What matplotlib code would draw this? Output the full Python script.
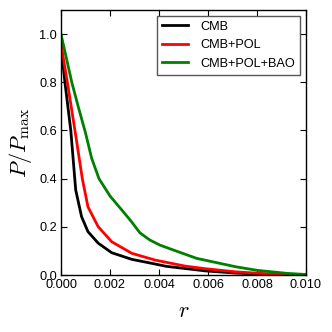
import matplotlib
matplotlib.use("Agg")
import matplotlib.pyplot as plt

r_cmb = [0.0, 0.00016, 0.0004, 0.0006, 0.00084, 0.0011, 0.00152, 0.00207, 0.00289, 0.00384, 0.0043, 0.00506, 0.0059, 0.00714, 0.0084, 0.010]
p_cmb = [0.955, 0.80, 0.60, 0.353, 0.242, 0.180, 0.132, 0.0925, 0.065, 0.0456, 0.036, 0.027, 0.017, 0.008, 0.003, 0.0]

r_pol = [0.0, 0.00026, 0.0006, 0.00087, 0.0011, 0.00152, 0.00207, 0.00289, 0.00384, 0.00506, 0.0059, 0.00714, 0.0084, 0.010]
p_pol = [0.958, 0.80, 0.58, 0.40, 0.283, 0.200, 0.138, 0.090, 0.062, 0.037, 0.026, 0.013, 0.005, 0.0]

r_bao = [0.0, 0.00044, 0.0007, 0.001, 0.00125, 0.00155, 0.0018, 0.002, 0.00248, 0.00288, 0.00322, 0.00363, 0.00404, 0.00458, 0.00554, 0.00714, 0.008, 0.0092, 0.010]
p_bao = [1.0, 0.80, 0.70, 0.59, 0.485, 0.40, 0.36, 0.328, 0.27, 0.221, 0.175, 0.145, 0.124, 0.104, 0.069, 0.034, 0.0195, 0.007, 0.002]

labels = ["CMB", "CMB+POL", "CMB+POL+BAO"]
colors = ["black", "red", "green"]

plt.rcParams['font.family'] = ['Liberation Sans', 'DejaVu Sans']
plt.rcParams['mathtext.fontset'] = 'cm'

fig = plt.figure(figsize=(3.32, 3.32), dpi=100)
ax = fig.add_axes([61/332, 57/332, 245/332, 265/332])

for r, p, lab, c in zip([r_cmb, r_pol, r_bao], [p_cmb, p_pol, p_bao], labels, colors):
    ax.plot(r, p, color=c, lw=2, label=lab, solid_joinstyle='round')

ax.set_xlim(0, 0.01)
ax.set_ylim(0, 1.1)
ax.set_xticks([0.0, 0.002, 0.004, 0.006, 0.008, 0.010])
ax.set_xticklabels(["0.000", "0.002", "0.004", "0.006", "0.008", "0.010"])
ax.set_yticks([0.0, 0.2, 0.4, 0.6, 0.8, 1.0])
ax.set_yticklabels(["0.0", "0.2", "0.4", "0.6", "0.8", "1.0"])
ax.tick_params(direction='in', top=True, right=True, labelsize=9.2, length=4, width=0.8, pad=3)
for s in ax.spines.values():
    s.set_linewidth(1.0)

ax.set_xlabel(r"$r$", fontsize=16, labelpad=7)
ax.set_ylabel(r"$P/P_{\rm max}$", fontsize=16, labelpad=4)

leg = ax.legend(loc='upper right', fontsize=9.2, fancybox=False, framealpha=1,
                edgecolor='#555555', handlelength=2.0, handletextpad=1.0,
                borderaxespad=0.45, labelspacing=0.5)
leg.get_frame().set_linewidth(1.0)

fig.savefig("out.png", dpi=100)
